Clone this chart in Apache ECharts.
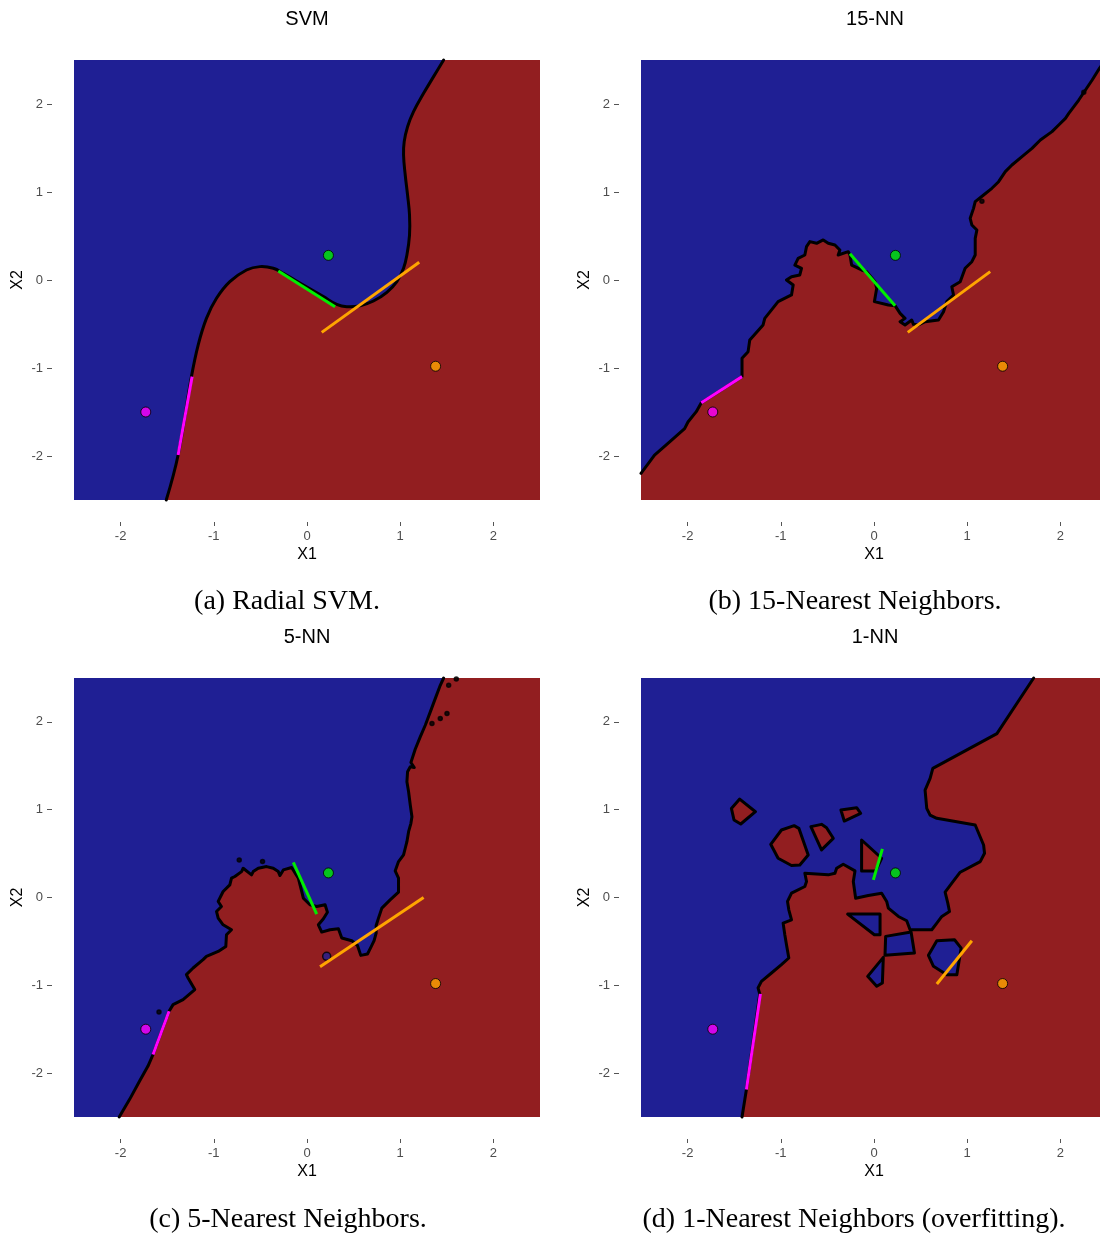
<!DOCTYPE html>
<html><head><meta charset="utf-8">
<script src="https://cdn.jsdelivr.net/npm/echarts@6/dist/echarts.min.js"></script>
<style>html,body{margin:0;padding:0;background:#fff}#c{width:1100px;height:1236px}</style>
</head><body><div id="c"></div>
<script>
// ---------- data ----------
const tickValues = [-2, -1, 0, 1, 2];
const panelTitles = ['SVM', '15-NN', '5-NN', '1-NN'];
const captions = ['(a) Radial SVM.', '(b) 15-Nearest Neighbors.', '(c) 5-Nearest Neighbors.', '(d) 1-Nearest Neighbors (overfitting).'];

// probe points (magenta, green, orange)
const probeX = [-1.73, 0.23, 1.38];
const probeY = [-1.50, 0.28, -0.98];

// decision boundaries (red region on the right / below)
const svmBoundary = [[-1.51,-2.5],[-1.383,-1.989],[-1.24,-1.098],[-1.168,-0.739],[-1.079,-0.436],[-0.971,-0.208],[-0.828,-0.019],[-0.649,0.114],[-0.505,0.152],[-0.362,0.133],[-0.254,0.076],[-0.039,-0.057],[0.176,-0.189],[0.319,-0.277],[0.427,-0.303],[0.57,-0.292],[0.713,-0.239],[0.857,-0.14],[0.964,-0.019],[1.036,0.133],[1.072,0.284],[1.1,0.511],[1.1,0.739],[1.079,0.966],[1.054,1.193],[1.036,1.42],[1.043,1.572],[1.079,1.742],[1.143,1.913],[1.251,2.121],[1.358,2.311],[1.466,2.5]];
const svmCorners = [[2.5,2.5],[2.5,-2.5]];

const nn15Boundary = [[-2.5,-2.197],[-2.355,-1.989],[-2.211,-1.856],[-2.032,-1.689],[-1.996,-1.614],[-1.907,-1.496],[-1.853,-1.394],[-1.638,-1.25],[-1.416,-1.098],[-1.416,-0.89],[-1.351,-0.814],[-1.333,-0.682],[-1.19,-0.511],[-1.172,-0.436],[-1.029,-0.246],[-0.885,-0.17],[-0.867,-0.057],[-0.939,0],[-0.885,0.038],[-0.796,0.057],[-0.778,0.133],[-0.849,0.17],[-0.814,0.246],[-0.742,0.284],[-0.724,0.379],[-0.688,0.436],[-0.616,0.417],[-0.545,0.455],[-0.491,0.417],[-0.419,0.398],[-0.366,0.341],[-0.384,0.284],[-0.276,0.322],[-0.258,0.284],[-0.24,0.17],[-0.133,0.114],[-0.079,0.095],[0.011,-0.019],[0.029,-0.095],[0.004,-0.246],[0.154,-0.284],[0.226,-0.292],[0.28,-0.379],[0.333,-0.436],[0.28,-0.474],[0.333,-0.511],[0.405,-0.455],[0.423,-0.504],[0.477,-0.511],[0.548,-0.474],[0.692,-0.455],[0.746,-0.36],[0.781,-0.246],[0.853,-0.17],[0.835,-0.076],[0.925,-0.019],[0.978,0.133],[1.05,0.208],[1.086,0.284],[1.086,0.473],[1.104,0.568],[1.05,0.625],[1.032,0.701],[1.068,0.814],[1.086,0.89],[1.176,0.966],[1.265,1.042],[1.337,1.117],[1.409,1.231],[1.48,1.307],[1.588,1.402],[1.695,1.496],[1.785,1.591],[1.91,1.686],[1.982,1.761],[2.054,1.837],[2.09,1.894],[2.197,2.045],[2.269,2.159],[2.341,2.273],[2.419,2.405],[2.48,2.5]];
const nn15Corners = [[2.5,2.5],[2.5,-2.5],[-2.5,-2.5]];
const nn15Dots = [[1.158,0.894],[2.251,2.133]];

const nn5Boundary = [[-2.015,-2.5],[-1.903,-2.299],[-1.796,-2.091],[-1.706,-1.92],[-1.652,-1.788],[-1.48,-1.295],[-1.437,-1.22],[-1.33,-1.163],[-1.204,-1.049],[-1.276,-0.917],[-1.294,-0.879],[-1.222,-0.803],[-1.115,-0.708],[-1.079,-0.67],[-0.953,-0.614],[-0.871,-0.557],[-0.864,-0.424],[-0.81,-0.367],[-0.9,-0.311],[-0.953,-0.235],[-0.971,-0.159],[-0.918,-0.102],[-0.953,-0.045],[-0.9,0.068],[-0.828,0.144],[-0.81,0.22],[-0.774,0.239],[-0.702,0.295],[-0.685,0.333],[-0.595,0.258],[-0.577,0.295],[-0.523,0.333],[-0.434,0.352],[-0.362,0.333],[-0.308,0.295],[-0.29,0.25],[-0.254,0.314],[-0.165,0.341],[-0.093,0.22],[-0.039,-0.008],[0.032,-0.083],[0.104,-0.102],[0.194,-0.083],[0.219,-0.167],[0.176,-0.242],[0.122,-0.311],[0.158,-0.394],[0.247,-0.367],[0.337,-0.356],[0.373,-0.462],[0.48,-0.492],[0.541,-0.545],[0.577,-0.659],[0.649,-0.644],[0.685,-0.568],[0.72,-0.492],[0.742,-0.405],[0.742,-0.318],[0.767,-0.235],[0.803,-0.121],[0.892,-0.027],[0.982,0.061],[0.982,0.22],[0.946,0.303],[0.982,0.409],[1.036,0.485],[1.054,0.561],[1.072,0.636],[1.09,0.75],[1.115,0.845],[1.126,0.92],[1.108,1.053],[1.09,1.205],[1.072,1.318],[1.079,1.432],[1.108,1.489],[1.151,1.481],[1.115,1.538],[1.161,1.689],[1.215,1.83],[1.269,1.962],[1.323,2.114],[1.376,2.265],[1.43,2.417],[1.466,2.5]];
const nn5Corners = [[2.5,2.5],[2.5,-2.5]];
const nn5Dots = [[1.341,1.981],[1.43,2.038],[1.502,2.095],[1.52,2.417],[1.602,2.49],[-1.588,-1.303],[-0.727,0.428],[-0.477,0.409]];
const nn5BlueBlobs = [[0.211,-0.67]];

const nn1Boundary = [[-1.416,-2.5],[-1.369,-2.186],[-1.226,-1.098],[-1.244,-1.03],[-1.208,-0.955],[-1.1,-0.86],[-0.993,-0.765],[-0.914,-0.689],[-0.939,-0.538],[-0.957,-0.424],[-0.975,-0.292],[-0.885,-0.254],[-0.914,-0.14],[-0.928,-0.045],[-0.885,0.049],[-0.742,0.125],[-0.724,0.182],[-0.742,0.277],[-0.491,0.258],[-0.419,0.277],[-0.401,0.333],[-0.33,0.379],[-0.204,0.303],[-0.222,0.182],[-0.197,-0.008],[-0.061,0.023],[0.082,0.049],[0.136,-0.045],[0.154,-0.121],[0.262,-0.216],[0.351,-0.265],[0.387,-0.367],[0.62,-0.367],[0.674,-0.292],[0.728,-0.216],[0.81,-0.159],[0.792,-0.064],[0.763,0.061],[0.835,0.163],[0.925,0.288],[1.14,0.409],[1.186,0.504],[1.176,0.598],[1.086,0.826],[0.674,0.902],[0.602,0.939],[0.566,1.015],[0.548,1.223],[0.602,1.356],[0.631,1.47],[1.319,1.867],[1.713,2.5]];
const nn1Corners = [[2.5,2.5],[2.5,-2.5]];
const nn1RedIslands = [
  [[-1.53,1.015],[-1.441,1.121],[-1.272,0.977],[-1.43,0.837],[-1.502,0.883]],
  [[-1.108,0.606],[-0.993,0.769],[-0.857,0.818],[-0.806,0.788],[-0.706,0.485],[-0.796,0.371],[-0.885,0.364],[-1.029,0.447]],
  [[-0.677,0.807],[-0.563,0.833],[-0.509,0.795],[-0.437,0.674],[-0.563,0.542]],
  [[-0.355,0.996],[-0.186,1.023],[-0.143,0.958],[-0.319,0.871]],
  [[-0.133,0.655],[0.082,0.447],[0.018,0.303],[-0.133,0.303]]
];
const nn1BlueIslands = [
  [[-0.283,-0.189],[0.065,-0.189],[0.065,-0.424],[0.004,-0.424]],
  [[0.125,-0.443],[0.398,-0.394],[0.434,-0.633],[0.118,-0.659]],
  [[0.1,-0.682],[0.09,-0.973],[0.029,-1.011],[-0.068,-0.898]],
  [[0.584,-0.659],[0.674,-0.492],[0.864,-0.481],[0.935,-0.576],[0.889,-0.879],[0.781,-0.879],[0.638,-0.784]]
];

// colored segments per panel: magenta, green, orange ([x1,y1,x2,y2])
const svmSegments  = [[-1.383,-1.989,-1.233,-1.098],[-0.308,0.102,0.301,-0.303],[0.158,-0.595,1.204,0.201]];
const nn15Segments = [[-1.853,-1.394,-1.416,-1.098],[-0.258,0.299,0.226,-0.292],[0.362,-0.595,1.247,0.095]];
const nn5Segments  = [[-1.652,-1.788,-1.48,-1.295],[-0.147,0.401,0.104,-0.189],[0.14,-0.788,1.251,0.0]];
const nn1Segments  = [[-1.369,-2.186,-1.219,-1.098],[-0.007,0.201,0.09,0.553],[0.674,-0.985,1.05,-0.492]];

// ---------- styling ----------
const BLUE = '#1F1F94', RED = '#921E20';
const PROBE_COLORS = ['#FF00FF', '#00EE00', '#FFA500'];
const SANS = 'Liberation Sans', SERIF = 'Liberation Serif';
const gridBoxes = [
  {left:74, top:60, width:466, height:440},
  {left:641, top:60, width:466, height:440},
  {left:74, top:678, width:466, height:439},
  {left:641, top:678, width:466, height:439}
];
const centersX = [307, 875, 307, 875];
const capCentersX = [287, 855, 288, 854];

const chart = echarts.init(document.getElementById('c'), null, {renderer:'canvas'});

function regionSeries(gi, boundary, corners, smooth) {
  return {type:'custom', coordinateSystem:'cartesian2d', xAxisIndex:gi, yAxisIndex:gi, silent:true, z:1,
    data:[[0,0]],
    renderItem:(p, api) => {
      const b = boundary.map(pt => api.coord(pt));
      const poly = boundary.concat(corners).map(pt => api.coord(pt));
      return {type:'group', children:[
        {type:'polygon', shape:{points:poly}, style:{fill:RED}},
        {type:'polyline', shape:{points:b, smooth:smooth}, style:{stroke:'#000', lineWidth:3, fill:null, lineJoin:'round', lineCap:'round'}}
      ]};
    }};
}
function islandSeries(gi, shapes, fill, z) {
  return {type:'custom', coordinateSystem:'cartesian2d', xAxisIndex:gi, yAxisIndex:gi, silent:true, z:z,
    data:[[0,0]],
    renderItem:(p, api) => ({type:'group', children: shapes.map(s => ({
      type:'polygon', shape:{points:s.map(pt => api.coord(pt))},
      style:{fill:fill, stroke:'#000', lineWidth:3, lineJoin:'round'}}))})
  };
}
function segmentSeries(gi, segs) {
  return segs.map((s, i) => ({type:'line', xAxisIndex:gi, yAxisIndex:gi, silent:true, z:4,
    data:[[s[0], s[1]], [s[2], s[3]]], symbol:'none',
    lineStyle:{color:PROBE_COLORS[i], width:3, cap:'butt'}}));
}
function probeSeries(gi) {
  return {type:'scatter', xAxisIndex:gi, yAxisIndex:gi, silent:true, z:5, symbolSize:10,
    data: probeX.map((x, i) => ({value:[x, probeY[i]], itemStyle:{color:PROBE_COLORS[i]}})),
    itemStyle:{borderColor:'#000', borderWidth:1}};
}
function dotSeries(gi, pts, color, size) {
  return {type:'scatter', xAxisIndex:gi, yAxisIndex:gi, silent:true, z:3, symbolSize:size,
    data: pts, itemStyle:{color:color, borderColor:'#000', borderWidth:1.5}};
}

const grids = gridBoxes.map(g => Object.assign({show:true, backgroundColor:BLUE, borderWidth:0, outerBoundsMode:'none', containLabel:false}, g));
const xAxes = gridBoxes.map((g, i) => ({
  gridIndex:i, type:'value', min:-2.5, max:2.5, offset:22,
  axisLine:{show:false, onZero:false}, splitLine:{show:false},
  axisTick:{show:true, length:4, customValues:tickValues, lineStyle:{color:'#555', width:1}},
  axisLabel:{customValues:tickValues, margin:8, color:'#4d4d4d', fontSize:13, fontFamily:SANS},
  name:'X1', nameLocation:'middle', nameGap:25,
  nameTextStyle:{color:'#000', fontSize:16, fontFamily:SANS}
}));
const yAxes = gridBoxes.map((g, i) => ({
  gridIndex:i, type:'value', min:-2.5, max:2.5, offset:22,
  axisLine:{show:false, onZero:false}, splitLine:{show:false},
  axisTick:{show:true, length:5, customValues:tickValues, lineStyle:{color:'#555', width:1}},
  axisLabel:{customValues:tickValues, margin:9, color:'#4d4d4d', fontSize:13, fontFamily:SANS},
  name:'X2', nameLocation:'middle', nameGap:26,
  nameTextStyle:{color:'#000', fontSize:16, fontFamily:SANS}
}));

const titles = [];
panelTitles.forEach((t, i) => titles.push({text:t, left:centersX[i], top: i < 2 ? 9 : 627, textAlign:'center', padding:0,
  textStyle:{fontFamily:SANS, fontSize:20, fontWeight:'normal', color:'#000'}}));
captions.forEach((t, i) => titles.push({text:t, left:capCentersX[i], top: i < 2 ? 588 : 1206, textAlign:'center', padding:0,
  textStyle:{fontFamily:SERIF, fontSize:28, fontWeight:'normal', color:'#000'}}));

const series = [
  regionSeries(0, svmBoundary, svmCorners, 0.4),
  regionSeries(1, nn15Boundary, nn15Corners, 0),
  regionSeries(2, nn5Boundary, nn5Corners, 0),
  regionSeries(3, nn1Boundary, nn1Corners, 0),
  islandSeries(3, nn1RedIslands, RED, 2),
  islandSeries(3, nn1BlueIslands, BLUE, 2),
  dotSeries(1, nn15Dots, '#000', 4),
  dotSeries(2, nn5Dots, '#000', 4),
  dotSeries(2, nn5BlueBlobs, BLUE, 8),
  ...segmentSeries(0, svmSegments),
  ...segmentSeries(1, nn15Segments),
  ...segmentSeries(2, nn5Segments),
  ...segmentSeries(3, nn1Segments),
  probeSeries(0), probeSeries(1), probeSeries(2), probeSeries(3)
];

chart.setOption({
  animation:false,
  backgroundColor:'#fff',
  title:titles,
  grid:grids,
  xAxis:xAxes,
  yAxis:yAxes,
  series:series
});
</script></body></html>
